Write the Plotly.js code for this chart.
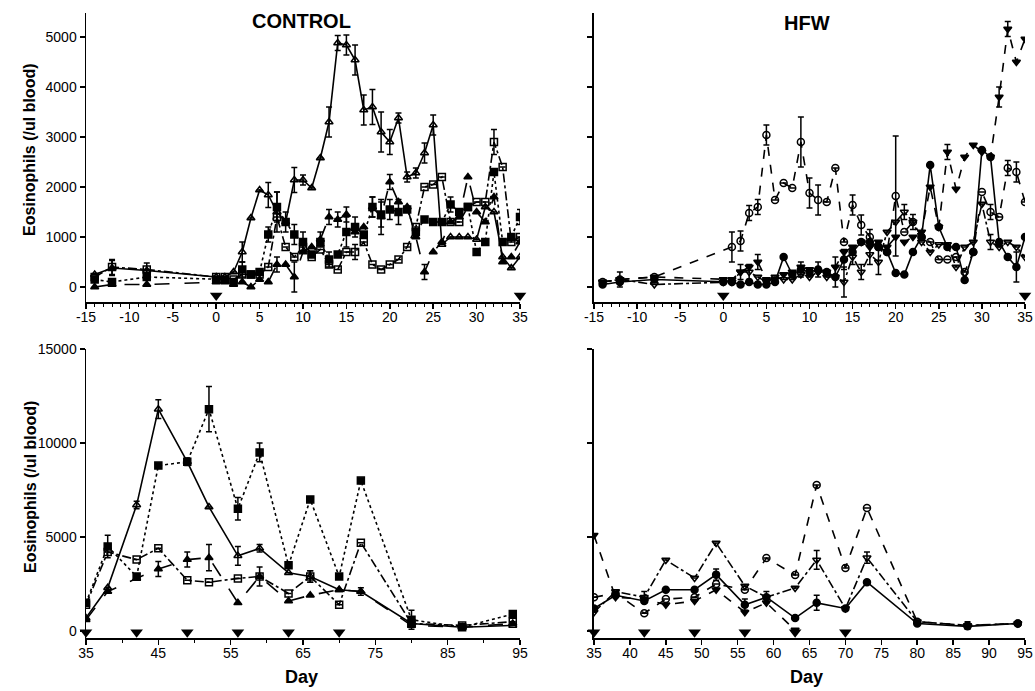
<!DOCTYPE html>
<html><head><meta charset="utf-8">
<script src="https://cdn.plot.ly/plotly-3.0.1.min.js"></script>
<style>html,body{margin:0;padding:0;background:#fff}#chart{width:1035px;height:691px}</style>
</head><body><div id="chart"></div>
<script>
// ---- Days ----
const daysEarly = [-14,-12,-8,0,1,2,3,4,5,6,7,8,9,10,11,12,13,14,15,16,17,18,19,20,21,22,23,24,25,26,27,28,29,30,31,32,33,34,35];
const daysLate = [35,38,42,45,49,52,56,59,63,66,70,73,80,87,94];

// ---- CONTROL, days -14..35 ----
const ctrlOpenTri = [250,380,330,200,200,300,700,1380,1940,1840,1500,1300,2140,2140,1980,2580,3300,4880,4840,4540,3540,3600,3100,2900,3380,2200,2280,2680,3240,850,1000,1000,1000,950,1600,1500,600,380,600];
const ctrlOpenTriErr = [0,150,150,0,0,0,200,0,0,250,400,0,250,100,0,0,300,150,200,300,300,350,400,250,100,100,100,200,200,0,0,0,0,0,0,0,0,0,0];
const ctrlFillSq = [150,100,200,150,150,100,350,250,300,1050,1600,1300,1050,900,650,900,550,650,1100,1200,1050,1600,1450,1550,1500,1550,1100,1350,1300,1300,1650,1500,1600,700,900,2300,900,1000,1400];
const ctrlFillSqErr = [0,0,0,0,0,0,150,0,0,150,300,200,200,200,0,0,150,0,300,200,0,200,250,200,250,0,0,0,0,0,150,0,0,0,0,0,0,0,150];
const ctrlOpenSq = [200,400,350,200,200,150,250,250,250,400,1400,800,600,800,600,750,450,350,700,700,900,450,350,450,550,800,1200,2000,2050,2200,1300,1300,1600,1700,1700,2900,2400,900,1000];
const ctrlOpenSqErr = [0,150,0,0,0,0,0,0,0,0,0,0,0,0,0,0,0,0,0,150,0,0,0,0,0,0,0,0,0,0,0,0,0,0,0,250,0,0,0];
const ctrlFillTri = [0,50,50,100,100,50,100,0,150,100,450,450,200,700,800,950,1400,1350,1450,1100,1200,1600,1400,2100,1700,1600,1000,300,700,900,1300,1400,2200,1500,1300,1800,500,600,900];
const ctrlFillTriErr = [0,0,0,0,0,0,0,0,0,0,150,0,300,0,0,150,150,150,150,0,0,200,350,150,0,0,0,150,0,0,0,0,0,0,0,0,0,0,0];

// ---- HFW, days -14..35 ----
const hfwOpenCirc = [100,150,200,null,800,920,1480,1600,3040,1740,2080,1980,2900,1880,1740,1700,2380,900,1640,1240,1000,800,700,1820,1100,1300,1000,900,550,550,600,300,700,1900,1500,1400,2380,2300,1700];
const hfwOpenCircErr = [0,150,0,0,300,200,150,150,200,0,0,0,500,300,300,0,0,0,200,200,150,0,0,1200,0,150,0,0,0,0,0,0,0,0,150,0,150,200,0];
const hfwFillCirc = [50,100,150,100,100,50,100,50,50,100,600,250,350,300,350,300,200,550,700,900,900,800,700,280,250,700,1000,2440,1200,800,800,140,700,2740,2600,900,600,400,1000];
const hfwFillCircErr = [0,0,0,0,0,0,0,0,0,0,0,0,150,0,150,0,200,200,0,0,0,0,0,0,0,0,0,0,0,0,0,0,0,0,0,0,0,300,0];
const hfwOpenDown = [100,150,50,100,100,300,300,200,100,200,150,150,250,200,300,200,200,100,600,300,650,500,1100,1300,1500,1300,900,700,850,850,400,800,900,1660,900,800,900,800,600];
const hfwOpenDownErr = [0,0,0,0,0,150,150,0,0,0,0,0,0,0,0,0,0,300,150,150,200,250,0,0,150,0,0,0,0,0,0,0,0,0,150,0,0,0,0];
const hfwFillDown = [100,150,200,150,150,300,400,500,150,150,250,300,400,350,300,300,400,700,800,900,800,900,800,1000,900,1000,1100,2000,1200,2700,1960,2600,2840,2700,2600,3800,5160,4500,4960];
const hfwFillDownErr = [0,0,0,0,0,0,0,150,0,0,0,0,0,0,0,0,200,0,0,0,0,0,0,0,0,0,0,0,0,150,0,0,0,0,0,200,150,0,0];

// ---- CONTROL, days 35..94 ----
const ctrlOpenTriL = [700,2300,6700,11800,9000,6600,4000,4400,3100,2900,2200,2100,400,200,300];
const ctrlOpenTriLErr = [0,0,200,500,0,0,500,200,0,300,0,0,0,0,0];
const ctrlFillSqL = [1500,4500,2900,8800,9000,11800,6500,9500,3500,7000,2900,8000,600,200,900];
const ctrlFillSqLErr = [0,600,0,0,200,1200,600,500,0,0,0,0,500,0,0];
const ctrlOpenSqL = [1400,4200,3800,4400,2700,2600,2800,2900,2000,2900,1400,4700,400,300,500];
const ctrlOpenSqLErr = [0,0,0,0,0,0,0,0,0,300,0,0,0,0,0];
const ctrlFillTriL = [600,2100,2800,3300,3800,3900,1500,2900,1600,1900,2200,2100,300,200,400];
const ctrlFillTriLErr = [0,0,0,400,400,700,0,500,0,0,0,200,0,0,0];

// ---- HFW, days 35..94 ----
const hfwOpenCircL = [1800,2000,950,1700,1800,2500,2200,3880,2980,7770,3350,6540,500,300,400];
const hfwOpenCircLErr = [0,0,0,0,0,0,0,0,0,0,0,0,0,0,0];
const hfwOpenDownL = [1000,2100,1800,3780,2820,4680,2400,1800,2290,3780,1200,3900,500,300,400];
const hfwOpenDownLErr = [0,0,300,0,0,0,0,0,0,500,0,300,0,200,0];
const hfwFillCircL = [1200,1900,1600,2200,2200,3000,1400,1800,690,1500,1200,2600,400,250,400];
const hfwFillCircLErr = [0,0,0,0,0,300,300,300,0,400,0,0,0,0,0];
const hfwFillDownL = [5100,1800,1700,1400,1600,2200,1000,1500,50,null,null,null,null,null,null];
const hfwFillDownLErr = [0,0,0,0,0,0,0,0,0,0,0,0,0,0,0];

// ---- Dosing day markers ----
const doseDaysEarly = [0,35];
const doseLevelEarly = [-170,-170];
const doseDaysLate = [35,42,49,56,63,70];
const doseLevelLate = [-60,-60,-60,-60,-60,-60];

// ---- Tick labels ----
const earlyTicks = [-15,-10,-5,0,5,10,15,20,25,30,35];
const earlyTickText = ['-15','-10','-5','0','5','10','15','20','25','30','35'];

function series(x, y, err, sym, dash, xa, ya, gaps){
  return {x:x, y:y, type:'scatter', mode:'lines+markers', xaxis:xa, yaxis:ya,
    connectgaps: !!gaps, showlegend:false,
    error_y:{type:'data', array:err, visible:true, color:'#000', thickness:1.5, width:3},
    line:{color:'#000', width:1.6, dash:dash},
    marker:{symbol:sym, size:7, color:'#000', line:{color:'#000', width:1.5}}};
}
function dose(x, y, xa, ya){
  return {x:x, y:y, type:'scatter', mode:'markers', xaxis:xa, yaxis:ya, showlegend:false, cliponaxis:false,
    marker:{symbol:'triangle-down', size:11, color:'#000'}};
}

const traces = [
  series(daysEarly, ctrlOpenTri, ctrlOpenTriErr, 'triangle-up-open', 'solid', 'x', 'y'),
  series(daysEarly, ctrlFillSq, ctrlFillSqErr, 'square', '3px,3px', 'x', 'y'),
  series(daysEarly, ctrlOpenSq, ctrlOpenSqErr, 'square-open', 'dashdot', 'x', 'y'),
  series(daysEarly, ctrlFillTri, ctrlFillTriErr, 'triangle-up', 'longdash', 'x', 'y'),
  dose(doseDaysEarly, doseLevelEarly, 'x', 'y'),

  series(daysEarly, hfwOpenCirc, hfwOpenCircErr, 'circle-open', 'dash', 'x2', 'y2', true),
  series(daysEarly, hfwFillCirc, hfwFillCircErr, 'circle', 'solid', 'x2', 'y2'),
  series(daysEarly, hfwOpenDown, hfwOpenDownErr, 'triangle-down-open', 'dashdot', 'x2', 'y2'),
  series(daysEarly, hfwFillDown, hfwFillDownErr, 'triangle-down', 'dash', 'x2', 'y2'),
  dose(doseDaysEarly, doseLevelEarly, 'x2', 'y2'),

  series(daysLate, ctrlOpenTriL, ctrlOpenTriLErr, 'triangle-up-open', 'solid', 'x3', 'y3'),
  series(daysLate, ctrlFillSqL, ctrlFillSqLErr, 'square', '3px,3px', 'x3', 'y3'),
  series(daysLate, ctrlOpenSqL, ctrlOpenSqLErr, 'square-open', 'dashdot', 'x3', 'y3'),
  series(daysLate, ctrlFillTriL, ctrlFillTriLErr, 'triangle-up', 'longdash', 'x3', 'y3'),
  dose(doseDaysLate, doseLevelLate, 'x3', 'y3'),

  series(daysLate, hfwOpenCircL, hfwOpenCircLErr, 'circle-open', 'dash', 'x4', 'y4'),
  series(daysLate, hfwOpenDownL, hfwOpenDownLErr, 'triangle-down-open', 'dashdot', 'x4', 'y4'),
  series(daysLate, hfwFillCircL, hfwFillCircLErr, 'circle', 'solid', 'x4', 'y4'),
  series(daysLate, hfwFillDownL, hfwFillDownLErr, 'triangle-down', 'dash', 'x4', 'y4'),
  dose(doseDaysLate, doseLevelLate, 'x4', 'y4')
];

const tickFont = {family:'Liberation Sans, Arial, sans-serif', size:14, color:'#000'};
function xax(domain, anchor, range, dtick, minor, tv, tt){
  const a = {domain:domain, anchor:anchor, range:range, dtick:dtick, tick0:range[0],
    showgrid:false, zeroline:false, showline:true, linecolor:'#000', linewidth:1.5,
    ticks:'outside', ticklen:5, tickwidth:1.5, tickcolor:'#000', tickfont:tickFont,
    ticklabelstandoff:-3,
    minor:{dtick:minor, ticks:'outside', ticklen:3, tickwidth:1, tickcolor:'#000'}};
  if (tv) { a.tickmode = 'array'; a.tickvals = tv; a.ticktext = tt; }
  return a;
}
function yax(domain, anchor, range, dtick, labels){
  return {domain:domain, anchor:anchor, range:range, dtick:dtick, tick0:0, tickformat:'d',
    showgrid:false, zeroline:false, showline:true, linecolor:'#000', linewidth:1.5,
    ticks:'outside', ticklen:5, tickwidth:1.5, tickcolor:'#000', tickfont:tickFont,
    showticklabels:labels};
}

const bold = {family:'Liberation Sans, Arial, sans-serif', color:'#000', weight:'bold'};
function ann(text, x, y, size, angle){
  return {text:text, xref:'paper', yref:'paper', x:x, y:y, xanchor:'center', yanchor:'middle',
    textangle:angle || 0, showarrow:false, font:Object.assign({size:size}, bold)};
}
const layout = {
  width:1035, height:691, paper_bgcolor:'#fff', plot_bgcolor:'#fff',
  margin:{l:86, r:10, t:13, b:53},
  xaxis: xax([0,0.4622],'y',[-15,35],5,1,earlyTicks,earlyTickText),
  yaxis: yax([0.5376,1],'x',[-300,5480],1000,true),
  xaxis2: xax([0.541,1],'y2',[-15,35],5,1,earlyTicks,earlyTickText),
  yaxis2: yax([0.5376,1],'x2',[-300,5480],1000,false),
  xaxis3: xax([0,0.4622],'y3',[35,95],10,5),
  yaxis3: yax([0,0.4624],'x3',[-370,15000],5000,true),
  xaxis4: xax([0.541,1],'y4',[35,95],5,5),
  yaxis4: yax([0,0.4624],'x4',[-370,15000],5000,false),
  annotations:[
    ann('CONTROL', 0.2300, 0.988, 20),
    ann('HFW', 0.7678, 0.984, 20),
    ann('Eosinophils (/ul blood)', -0.0596, 0.781, 16, -90),
    ann('Eosinophils (/ul blood)', -0.0596, 0.2416, 16, -90),
    ann('Day', 0.2300, -0.0624, 18),
    ann('Day', 0.7678, -0.0624, 18)
  ]
};

Plotly.newPlot('chart', traces, layout, {displayModeBar:false, staticPlot:true});
</script>
</body></html>
